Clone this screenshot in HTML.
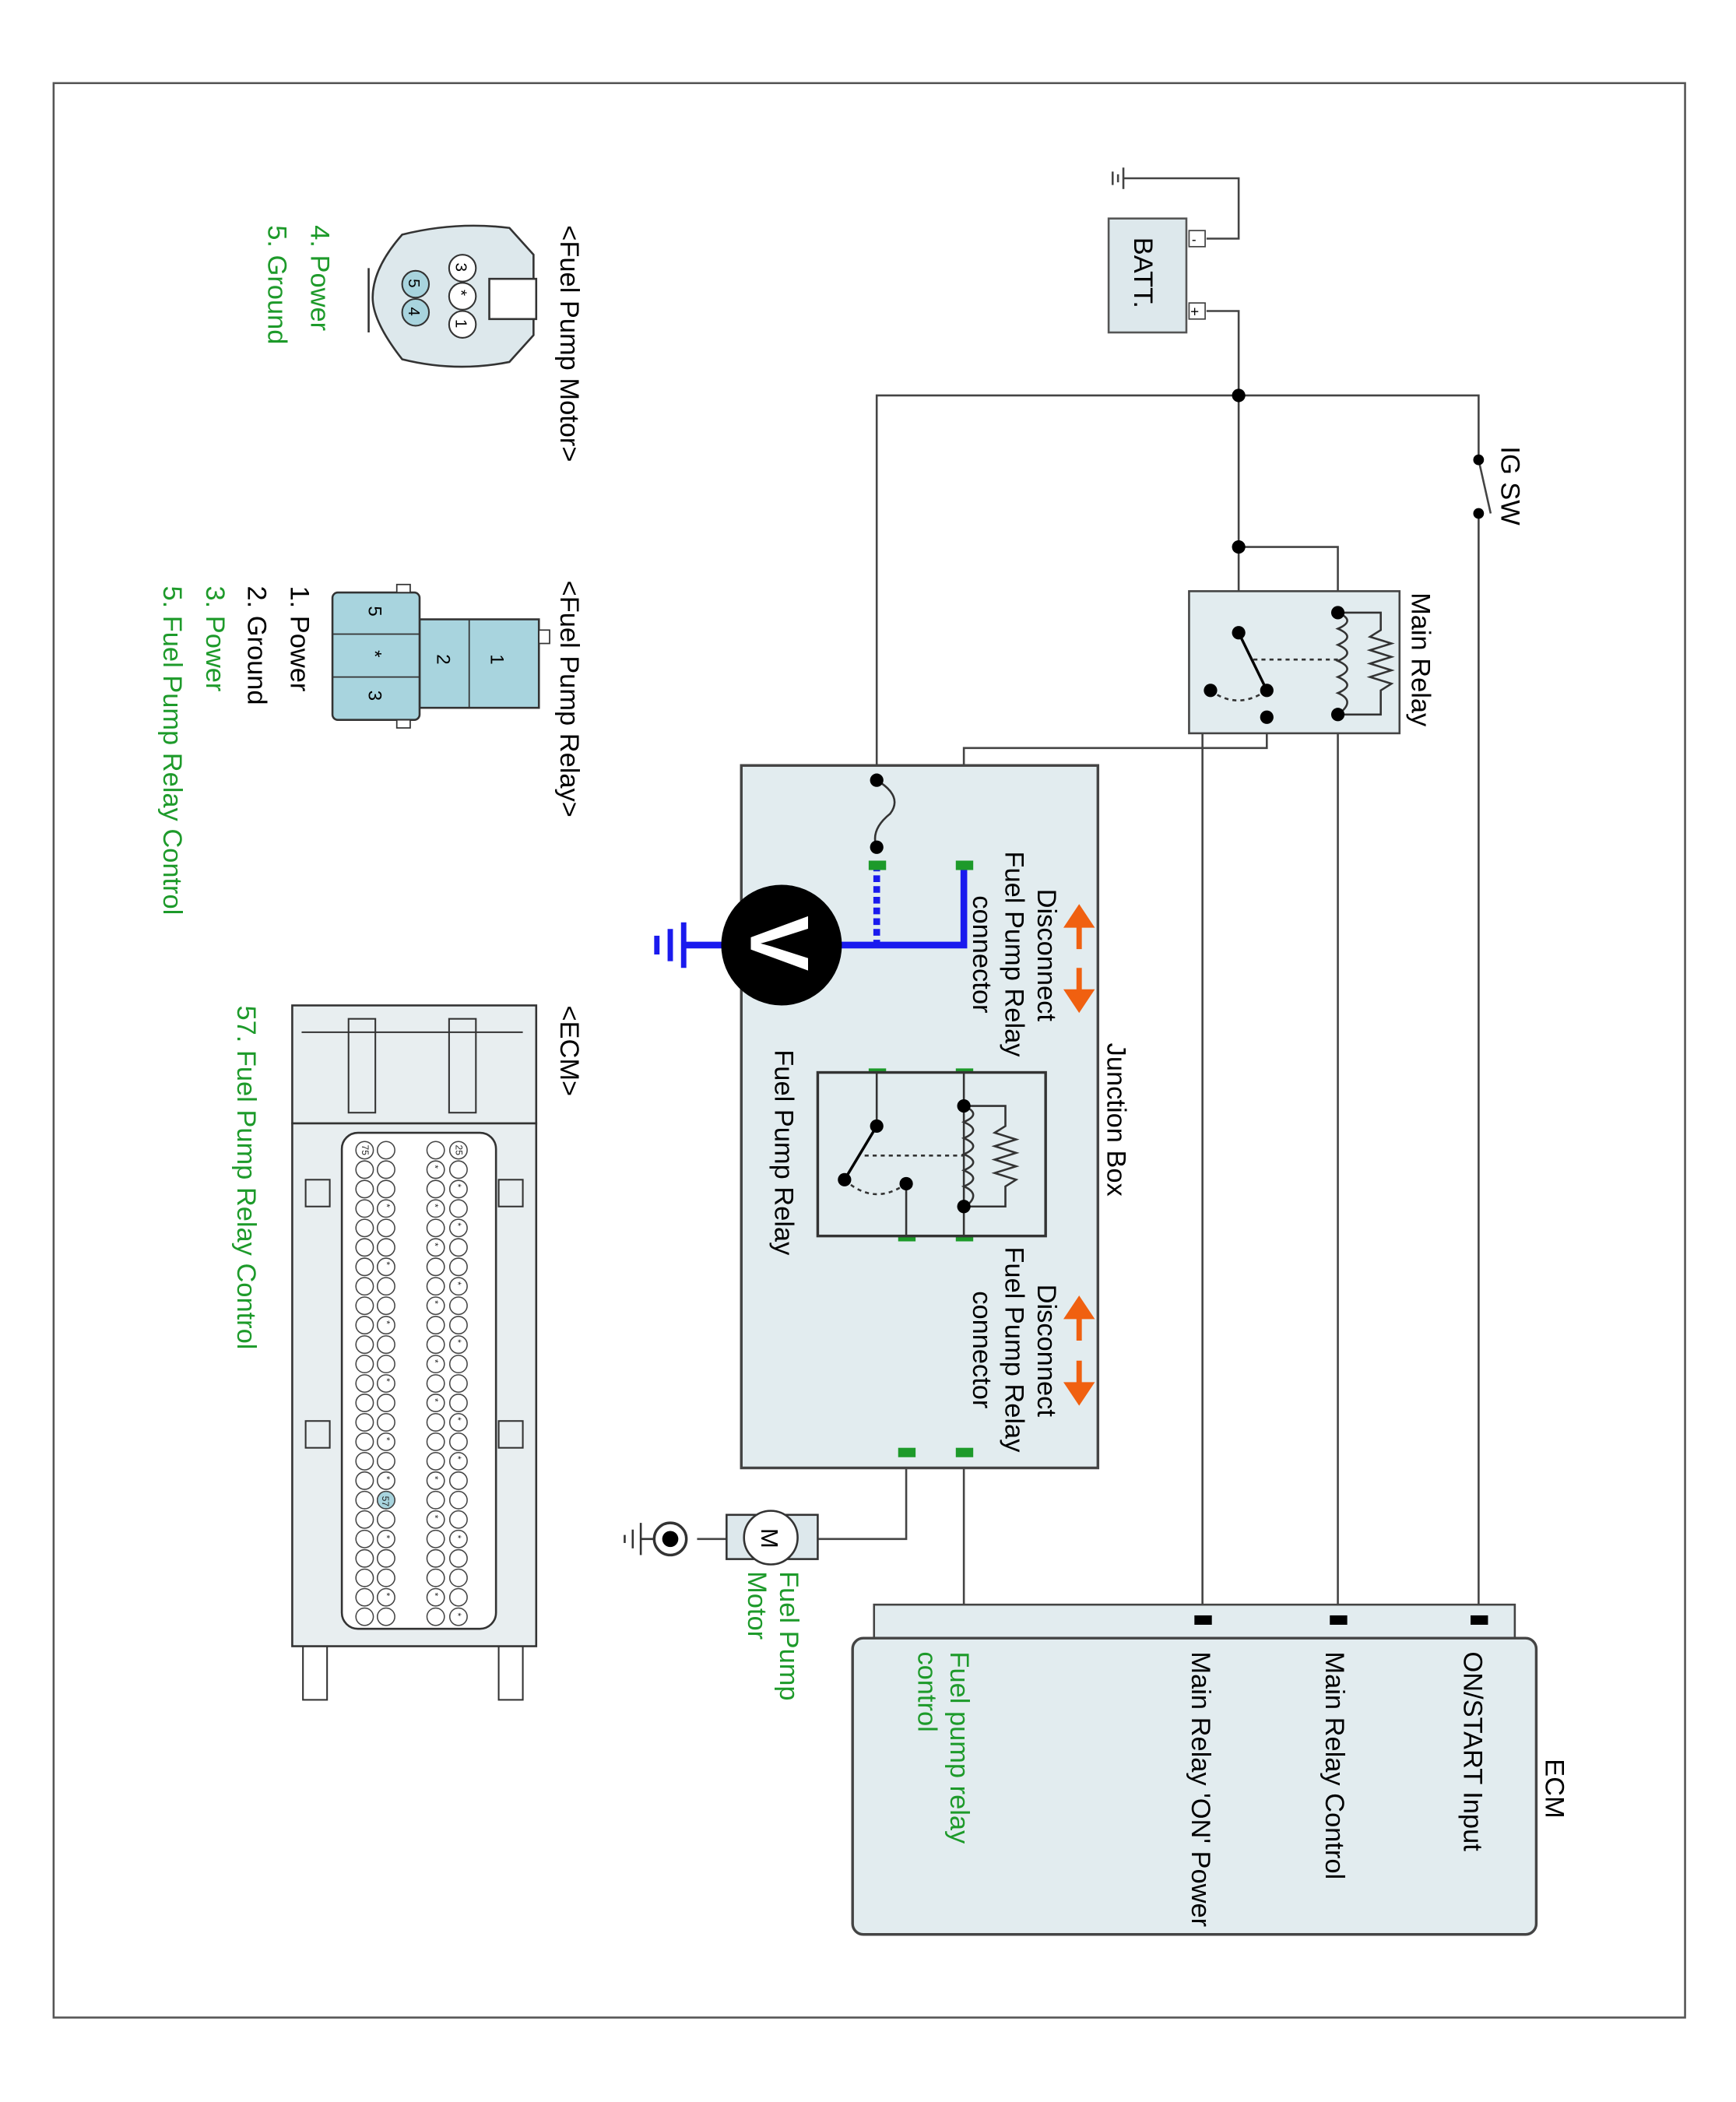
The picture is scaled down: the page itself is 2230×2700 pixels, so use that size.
<!DOCTYPE html>
<html><head><meta charset="utf-8"><style>
html,body{margin:0;padding:0;background:#fff;}
svg{display:block;}
text{font-family:"Liberation Sans",sans-serif;}
</style></head><body>
<svg width="2230" height="2700" viewBox="0 0 1295 1568" preserveAspectRatio="none" xmlns="http://www.w3.org/2000/svg">
<defs>
<g id="row"><circle cx="272" cy="0" r="6.5"/><circle cx="288" cy="0" r="6.5"/><circle cx="325" cy="0" r="6.5"/><circle cx="342" cy="0" r="6.5"/></g>
</defs>
<rect x="40" y="62" width="1217" height="1443" fill="none" stroke="#555" stroke-width="1.5"/>
<g stroke="#444" stroke-width="1.5" fill="none">
<line x1="830" y1="128" x2="830" y2="138"/><line x1="834" y1="130" x2="834" y2="136"/><line x1="838" y1="125" x2="838" y2="141"/>
<polyline points="838,133 924,133 924,178 900,178"/>
<polyline points="900,232 924,232 924,472"/>
<polyline points="654,582 654,295 1103,295 1103,343"/>
<line x1="1103" y1="383" x2="1103" y2="1208"/>
<line x1="1103" y1="343" x2="1112" y2="383"/>
<polyline points="924,408 998,408 998,457"/>
<line x1="998" y1="533" x2="998" y2="1208"/>
<polyline points="945,535 897,537 897,1208"/>
<polyline points="945,535 945,558 719,558 719,645"/>
<polyline points="719,1083 719,1208"/>
<polyline points="676,1083 676,1148 610,1148"/>
<line x1="542" y1="1148" x2="520" y2="1148"/>
</g>
<rect x="827" y="163" width="58" height="85" fill="#dde8ec" stroke="#555" stroke-width="1.5"/>
<text transform="translate(846,177) rotate(90)" font-size="20">BATT.</text>
<rect x="887" y="172" width="12" height="12" fill="#fff" stroke="#444"/><text x="889" y="182" font-size="10">-</text>
<rect x="887" y="226" width="12" height="12" fill="#fff" stroke="#444"/><text x="888" y="236" font-size="11">+</text>
<circle cx="1103" cy="343" r="4" fill="#000"/><circle cx="1103" cy="383" r="4" fill="#000"/>
<text transform="translate(1120,333) rotate(90)" font-size="20">IG SW</text>
<circle cx="924" cy="295" r="5" fill="#000"/><circle cx="924" cy="408" r="5" fill="#000"/>
<rect x="887" y="441" width="157" height="106" fill="#e2ecef" stroke="#444" stroke-width="1.5"/>
<text transform="translate(1053,442) rotate(90)" font-size="20">Main Relay</text>
<g stroke="#333" stroke-width="1.5" fill="none">
<path d="M998,457 q14,6 0,12 q14,6 0,12 q14,6 0,12 q14,6 0,12 q14,6 0,12 q14,6 0,16"/>
<polyline points="998,457 1030,457 1030,470 1022,475 1038,480 1022,485 1038,490 1022,495 1038,500 1022,505 1038,510 1030,515 1030,533 998,533"/>
<line x1="924" y1="472" x2="945" y2="515" stroke="#000" stroke-width="2"/>
<line x1="935" y1="492" x2="998" y2="492" stroke-dasharray="3,3"/>
<path d="M903,515 q20,15 42,0" stroke-dasharray="3,3"/>
</g>
<g fill="#000"><circle cx="998" cy="457" r="5"/><circle cx="998" cy="533" r="5"/><circle cx="924" cy="472" r="5"/><circle cx="945" cy="515" r="5"/><circle cx="903" cy="515" r="5"/><circle cx="945" cy="535" r="5"/></g>
<rect x="553" y="571" width="266" height="524" fill="#e2ecef" stroke="#444" stroke-width="2"/>
<text transform="translate(826,778) rotate(90)" font-size="20">Junction Box</text>
<path d="M654,582 q20,12 10,25 q-15,12 -10,25" fill="none" stroke="#333" stroke-width="1.5"/>
<circle cx="654" cy="582" r="5"/><circle cx="654" cy="632" r="5"/>
<line x1="654" y1="645" x2="654" y2="705" stroke="#1a1aee" stroke-width="5" stroke-dasharray="5,3"/>
<polyline points="719,645 719,705 620,705" fill="none" stroke="#1a1aee" stroke-width="5"/>
<line x1="540" y1="705" x2="510" y2="705" stroke="#1a1aee" stroke-width="5"/>
<g stroke="#1a1aee" stroke-width="4"><line x1="510" y1="688" x2="510" y2="722"/><line x1="500" y1="693" x2="500" y2="717"/><line x1="490" y1="698" x2="490" y2="712"/></g>
<circle cx="583" cy="705" r="45" fill="#000"/>
<text transform="translate(560,683) rotate(90)" font-size="62" font-weight="bold" fill="#fff">V</text>
<g fill="#1d9a2a"><rect x="648" y="642" width="13" height="7"/><rect x="713" y="642" width="13" height="7"/>
<rect x="648" y="797" width="13" height="7"/><rect x="713" y="797" width="13" height="7"/>
<rect x="670" y="919" width="13" height="7"/><rect x="713" y="919" width="13" height="7"/>
<rect x="670" y="1080" width="13" height="7"/><rect x="713" y="1080" width="13" height="7"/>
<rect x="713" y="1205" width="13" height="7"/></g>
<g stroke="#f06010" stroke-width="4" fill="#f06010">
<line x1="805" y1="688" x2="805" y2="708"/><polygon points="797,690 813,690 805,678"/>
<line x1="805" y1="722" x2="805" y2="742"/><polygon points="797,740 813,740 805,752"/>
<line x1="805" y1="980" x2="805" y2="1000"/><polygon points="797,982 813,982 805,970"/>
<line x1="805" y1="1015" x2="805" y2="1035"/><polygon points="797,1033 813,1033 805,1045"/>
</g>
<g font-size="20">
<text transform="translate(774,663) rotate(90)">Disconnect</text>
<text transform="translate(750,635) rotate(90)">Fuel Pump Relay</text>
<text transform="translate(726,668) rotate(90)">connector</text>
<text transform="translate(774,958) rotate(90)">Disconnect</text>
<text transform="translate(750,930) rotate(90)">Fuel Pump Relay</text>
<text transform="translate(726,963) rotate(90)">connector</text>
<text transform="translate(578,783) rotate(90)">Fuel Pump Relay</text>
</g>
<rect x="610" y="800" width="170" height="122" fill="#e2ecef" stroke="#333" stroke-width="2"/>
<g stroke="#333" stroke-width="1.5" fill="none">
<line x1="719" y1="800" x2="719" y2="922"/>
<path d="M719,825 q14,6 0,12 q14,6 0,12 q14,6 0,12 q14,6 0,12 q14,6 0,12 q14,6 0,16"/>
<polyline points="719,825 750,825 750,840 742,845 758,850 742,855 758,860 742,865 758,870 742,875 758,880 750,885 750,900 719,900"/>
<line x1="654" y1="800" x2="654" y2="840"/>
<line x1="654" y1="840" x2="630" y2="880" stroke="#000" stroke-width="2"/>
<line x1="676" y1="883" x2="676" y2="922"/>
<line x1="645" y1="862" x2="719" y2="862" stroke-dasharray="3,3"/>
<path d="M630,880 q22,20 46,3" stroke-dasharray="3,3"/>
</g>
<g fill="#000"><circle cx="719" cy="825" r="5"/><circle cx="719" cy="900" r="5"/><circle cx="654" cy="840" r="5"/><circle cx="630" cy="880" r="5"/><circle cx="676" cy="883" r="5"/></g>
<rect x="542" y="1130" width="68" height="33" fill="#dde8ec" stroke="#333" stroke-width="1.5"/>
<circle cx="575" cy="1147" r="20" fill="#fff" stroke="#333" stroke-width="1.5"/>
<text transform="translate(568,1140) rotate(90)" font-size="18">M</text>
<circle cx="500" cy="1148" r="12" fill="#fff" stroke="#333" stroke-width="2"/><circle cx="500" cy="1148" r="6" fill="#000"/>
<g stroke="#333" stroke-width="1.5"><line x1="488" y1="1148" x2="478" y2="1148"/><line x1="478" y1="1136" x2="478" y2="1160"/><line x1="472" y1="1141" x2="472" y2="1155"/><line x1="466" y1="1145" x2="466" y2="1151"/></g>
<text transform="translate(582,1172) rotate(90)" font-size="20" fill="#1d9a2a">Fuel Pump</text>
<text transform="translate(558,1172) rotate(90)" font-size="20" fill="#1d9a2a">Motor</text>
<rect x="652" y="1197" width="478" height="30" fill="#e2ecef" stroke="#444" stroke-width="1.5"/>
<rect x="636" y="1222" width="510" height="221" rx="8" fill="#e2ecef" stroke="#444" stroke-width="2"/>
<g fill="#000"><rect x="1097" y="1205" width="13" height="7"/><rect x="992" y="1205" width="13" height="7"/><rect x="891" y="1205" width="13" height="7"/></g>
<g font-size="20">
<text transform="translate(1153,1312) rotate(90)">ECM</text>
<text transform="translate(1092,1232) rotate(90)">ON/START Input</text>
<text transform="translate(989,1232) rotate(90)">Main Relay Control</text>
<text transform="translate(889,1232) rotate(90)">Main Relay 'ON' Power</text>
<text transform="translate(709,1232) rotate(90)" fill="#1d9a2a">Fuel pump relay</text>
<text transform="translate(685,1232) rotate(90)" fill="#1d9a2a">control</text>
</g>
<g font-size="20">
<text transform="translate(418,168) rotate(90)">&lt;Fuel Pump Motor&gt;</text>
<text transform="translate(232,168) rotate(90)" fill="#1d9a2a">4. Power</text>
<text transform="translate(200,168) rotate(90)" fill="#1d9a2a">5. Ground</text>
<text transform="translate(418,433) rotate(90)">&lt;Fuel Pump Relay&gt;</text>
<text transform="translate(217,437) rotate(90)">1. Power</text>
<text transform="translate(185,437) rotate(90)">2. Ground</text>
<text transform="translate(154,437) rotate(90)" fill="#1d9a2a">3. Power</text>
<text transform="translate(122,437) rotate(90)" fill="#1d9a2a">5. Fuel Pump Relay Control</text>
<text transform="translate(418,750) rotate(90)">&lt;ECM&gt;</text>
<text transform="translate(177,750) rotate(90)" fill="#1d9a2a">57. Fuel Pump Relay Control</text>
</g>
<path d="M300,175 Q340,165 380,170 L398,190 L398,250 L380,270 Q340,278 300,268 Q278,240 278,222 Q278,200 300,175 Z" fill="#dde8ec" stroke="#333" stroke-width="1.5"/>
<rect x="365" y="208" width="35" height="30" fill="#fff" stroke="#333" stroke-width="1.5"/>
<line x1="275" y1="200" x2="275" y2="248" stroke="#333" stroke-width="1.5"/>
<g fill="#fff" stroke="#333" stroke-width="1.2"><circle cx="345" cy="200" r="10"/><circle cx="345" cy="221" r="10"/><circle cx="345" cy="242" r="10"/></g>
<g fill="#a8d4de" stroke="#333" stroke-width="1.2"><circle cx="310" cy="212" r="10"/><circle cx="310" cy="233" r="10"/></g>
<g font-size="12"><text transform="translate(340,196) rotate(90)">3</text><text transform="translate(340,216) rotate(90)">*</text><text transform="translate(340,238) rotate(90)">1</text><text transform="translate(305,208) rotate(90)">5</text><text transform="translate(305,229) rotate(90)">4</text></g>
<rect x="313" y="462" width="89" height="66" fill="#a8d4de" stroke="#333" stroke-width="1.5"/>
<rect x="248" y="442" width="65" height="95" rx="4" fill="#a8d4de" stroke="#333" stroke-width="1.5"/>
<line x1="350" y1="462" x2="350" y2="528" stroke="#333"/>
<line x1="248" y1="473" x2="313" y2="473" stroke="#333"/><line x1="248" y1="505" x2="313" y2="505" stroke="#333"/>
<rect x="402" y="470" width="8" height="10" fill="#fff" stroke="#333"/><rect x="296" y="436" width="10" height="6" fill="#fff" stroke="#333"/><rect x="296" y="537" width="10" height="6" fill="#fff" stroke="#333"/>
<g font-size="14"><text transform="translate(366,488) rotate(90)">1</text><text transform="translate(326,488) rotate(90)">2</text><text transform="translate(275,452) rotate(90)">5</text><text transform="translate(275,485) rotate(90)">*</text><text transform="translate(275,515) rotate(90)">3</text></g>
<rect x="218" y="750" width="182" height="88" fill="#e8eef0" stroke="#333" stroke-width="1.5"/>
<rect x="218" y="838" width="182" height="390" fill="#e8eef0" stroke="#333" stroke-width="1.5"/>
<rect x="255" y="845" width="115" height="370" rx="12" fill="#fff" stroke="#333" stroke-width="1.5"/>
<g stroke="#333" stroke-width="1.2" fill="none">
<rect x="260" y="760" width="20" height="70"/><rect x="335" y="760" width="20" height="70"/>
<line x1="225" y1="770" x2="390" y2="770"/>
<rect x="226" y="1228" width="18" height="40"/><rect x="372" y="1228" width="18" height="40"/>
<rect x="228" y="880" width="18" height="20"/><rect x="372" y="880" width="18" height="20"/>
<rect x="228" y="1060" width="18" height="20"/><rect x="372" y="1060" width="18" height="20"/>
</g>
<g fill="#fff" stroke="#444" stroke-width="0.9">
<use href="#row" y="858"/><use href="#row" y="872.5"/><use href="#row" y="887"/><use href="#row" y="901.5"/><use href="#row" y="916"/>
<use href="#row" y="930.5"/><use href="#row" y="945"/><use href="#row" y="959.5"/><use href="#row" y="974"/><use href="#row" y="988.5"/>
<use href="#row" y="1003"/><use href="#row" y="1017.5"/><use href="#row" y="1032"/><use href="#row" y="1046.5"/><use href="#row" y="1061"/>
<use href="#row" y="1075.5"/><use href="#row" y="1090"/><use href="#row" y="1104.5"/><use href="#row" y="1119"/><use href="#row" y="1133.5"/>
<use href="#row" y="1148"/><use href="#row" y="1162.5"/><use href="#row" y="1177"/><use href="#row" y="1191.5"/><use href="#row" y="1206"/>
</g>
<circle cx="288" cy="1119" r="6.5" fill="#a8d4de" stroke="#444" stroke-width="0.9"/>
<g font-size="7" fill="#222">
<text transform="translate(285,1116) rotate(90)">57</text>
<text transform="translate(340,854) rotate(90)">25</text>
<text transform="translate(270,854) rotate(90)">75</text>
<text transform="translate(286,898) rotate(90)">*</text><text transform="translate(286,941) rotate(90)">*</text><text transform="translate(286,985) rotate(90)">*</text><text transform="translate(286,1028) rotate(90)">*</text><text transform="translate(286,1072) rotate(90)">*</text><text transform="translate(286,1101) rotate(90)">*</text><text transform="translate(286,1145) rotate(90)">*</text><text transform="translate(286,1188) rotate(90)">*</text>
<text transform="translate(322,869) rotate(90)">*</text><text transform="translate(322,898) rotate(90)">*</text><text transform="translate(322,927) rotate(90)">*</text><text transform="translate(322,970) rotate(90)">*</text><text transform="translate(322,1014) rotate(90)">*</text><text transform="translate(322,1043) rotate(90)">*</text><text transform="translate(322,1101) rotate(90)">*</text><text transform="translate(322,1130) rotate(90)">*</text><text transform="translate(322,1188) rotate(90)">*</text>
<text transform="translate(339,883) rotate(90)">*</text><text transform="translate(339,912) rotate(90)">*</text><text transform="translate(339,956) rotate(90)">*</text><text transform="translate(339,999) rotate(90)">*</text><text transform="translate(339,1057) rotate(90)">*</text><text transform="translate(339,1086) rotate(90)">*</text><text transform="translate(339,1145) rotate(90)">*</text><text transform="translate(339,1203) rotate(90)">*</text>
</g>
</svg>
</body></html>
